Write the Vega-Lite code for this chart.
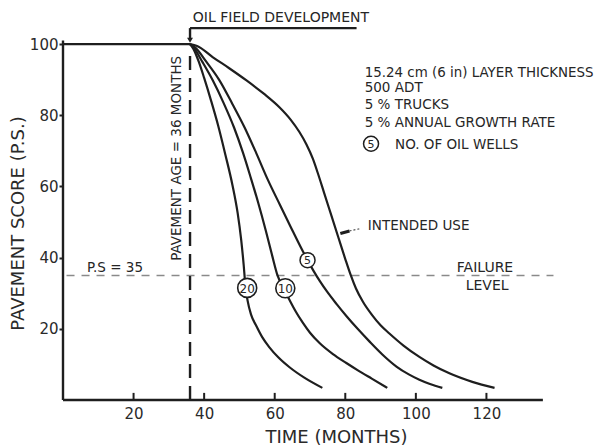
{
  "$schema": "https://vega.github.io/schema/vega-lite/v6.json",
  "autosize": {"type": "none"},
  "padding": {"left": 63, "top": 0, "right": 38, "bottom": 46},
  "width": 494,
  "height": 400,
  "background": "white",
  "config": {
    "view": {"stroke": null},
    "axis": {"grid": false},
    "text": {"font": "DejaVu Sans", "color": "#262626"}
  },
  "encoding": {
    "x": {
      "field": "t", "type": "quantitative",
      "scale": {"domain": [0, 140], "nice": false, "zero": false},
      "axis": {
        "values": [20, 40, 60, 80, 100, 120],
        "ticks": false, "domain": false,
        "labelPadding": 6, "labelFont": "DejaVu Sans", "labelFontSize": 15, "labelColor": "#2a2a2a",
        "title": "TIME (MONTHS)", "titleFont": "DejaVu Sans", "titleFontSize": 18, "titleFontWeight": "normal",
        "titleColor": "#2a2a2a", "titleX": 273, "titleY": 42, "titleAlign": "center", "titleBaseline": "alphabetic"
      }
    },
    "y": {
      "field": "ps", "type": "quantitative",
      "scale": {"domain": [0, 112.4], "nice": false},
      "axis": {
        "values": [20, 40, 60, 80, 100],
        "tickSize": 4, "tickWidth": 2, "tickColor": "#222222", "domain": false,
        "labelPadding": 1, "labelFont": "DejaVu Sans", "labelFontSize": 15, "labelColor": "#2a2a2a",
        "title": "PAVEMENT SCORE (P.S.)", "titleFont": "DejaVu Sans", "titleFontSize": 18, "titleFontWeight": "normal",
        "titleColor": "#2a2a2a", "titleX": -45, "titleY": 223, "titleAngle": 270, "titleAlign": "center", "titleBaseline": "middle"
      }
    }
  },
  "layer": [
    {
      "data": {"values": [{"t": 1, "t2": 139, "ps": 35}]},
      "mark": {"type": "rule", "color": "#8a8a8a", "strokeWidth": 1.6, "strokeDash": [8, 7]},
      "encoding": {"x2": {"field": "t2"}}
    },
    {
      "data": {"values": [{"t": 36, "ps": 0, "ps2": 98.3}]},
      "mark": {"type": "rule", "color": "#1e1e1e", "strokeWidth": 2.4, "strokeDash": [14, 8]},
      "encoding": {"y2": {"field": "ps2"}}
    },
    {
      "data": {"values": [
        {"t": 0, "t2": 136, "ps": 0, "ps2": 0},
        {"t": 0, "t2": 0, "ps": 0, "ps2": 101},
        {"t": 36, "t2": 36, "ps": 104.5, "ps2": 101.5},
        {"t": 36, "t2": 83.2, "ps": 104.5, "ps2": 104.5}
      ]},
      "mark": {"type": "rule", "color": "#1e1e1e", "strokeWidth": 2.4},
      "encoding": {"x2": {"field": "t2"}, "y2": {"field": "ps2"}}
    },
    {
      "data": {"values": [
        {"t": 20, "ps": 0, "ps2": 2},
        {"t": 40, "ps": 0, "ps2": 2},
        {"t": 60, "ps": 0, "ps2": 2},
        {"t": 80, "ps": 0, "ps2": 2},
        {"t": 100, "ps": 0, "ps2": 2},
        {"t": 120, "ps": 0, "ps2": 2}
      ]},
      "mark": {"type": "rule", "color": "#1e1e1e", "strokeWidth": 2},
      "encoding": {"y2": {"field": "ps2"}}
    },
    {
      "data": {"values": [{"t": 36, "ps": 101.1}]},
      "mark": {"type": "point", "shape": "triangle-down", "filled": true, "color": "#1e1e1e", "size": 35, "opacity": 1}
    },
    {
      "data": {"values": [
        {"t": 78.6, "t2": 81.2, "ps": 46.8, "ps2": 47.5}
      ]},
      "mark": {"type": "rule", "color": "#1e1e1e", "strokeWidth": 3},
      "encoding": {"x2": {"field": "t2"}, "y2": {"field": "ps2"}}
    },
    {
      "data": {"values": [
        {"t": 81.2, "t2": 84.4, "ps": 47.5, "ps2": 48.2}
      ]},
      "mark": {"type": "rule", "color": "#555555", "strokeWidth": 1.2, "strokeDash": [2, 2]},
      "encoding": {"x2": {"field": "t2"}, "y2": {"field": "ps2"}}
    },
    {
      "data": {"values": [
        {"series": "base", "t": 0, "ps": 100},
        {"series": "base", "t": 36, "ps": 100},

        {"series": "intended", "t": 36, "ps": 100},
        {"series": "intended", "t": 38, "ps": 99.5},
        {"series": "intended", "t": 42.5, "ps": 96.3},
        {"series": "intended", "t": 47, "ps": 93.3},
        {"series": "intended", "t": 52, "ps": 89.8},
        {"series": "intended", "t": 57, "ps": 86},
        {"series": "intended", "t": 61.4, "ps": 82.2},
        {"series": "intended", "t": 64.5, "ps": 78.8},
        {"series": "intended", "t": 67, "ps": 75.3},
        {"series": "intended", "t": 69, "ps": 71.8},
        {"series": "intended", "t": 70.8, "ps": 67.8},
        {"series": "intended", "t": 72.3, "ps": 63.5},
        {"series": "intended", "t": 74, "ps": 58.2},
        {"series": "intended", "t": 76, "ps": 52},
        {"series": "intended", "t": 78, "ps": 45.8},
        {"series": "intended", "t": 80, "ps": 39.6},
        {"series": "intended", "t": 81.5, "ps": 35.2},
        {"series": "intended", "t": 83, "ps": 31.4},
        {"series": "intended", "t": 85, "ps": 27.6},
        {"series": "intended", "t": 87.5, "ps": 24},
        {"series": "intended", "t": 90, "ps": 21},
        {"series": "intended", "t": 92.5, "ps": 18.7},
        {"series": "intended", "t": 96.5, "ps": 15.3},
        {"series": "intended", "t": 101, "ps": 12.1},
        {"series": "intended", "t": 105, "ps": 9.7},
        {"series": "intended", "t": 109.5, "ps": 7.5},
        {"series": "intended", "t": 116, "ps": 5.1},
        {"series": "intended", "t": 122.3, "ps": 3.4},

        {"series": "5", "t": 36, "ps": 100},
        {"series": "5", "t": 37.5, "ps": 99},
        {"series": "5", "t": 40.5, "ps": 95.2},
        {"series": "5", "t": 44.3, "ps": 89.9},
        {"series": "5", "t": 48, "ps": 83.2},
        {"series": "5", "t": 51.5, "ps": 76.5},
        {"series": "5", "t": 54.8, "ps": 69.3},
        {"series": "5", "t": 58, "ps": 62},
        {"series": "5", "t": 61.5, "ps": 54.8},
        {"series": "5", "t": 64.5, "ps": 48.7},
        {"series": "5", "t": 67.5, "ps": 42.7},
        {"series": "5", "t": 69.3, "ps": 39.3},
        {"series": "5", "t": 71, "ps": 36.3},
        {"series": "5", "t": 72.8, "ps": 33.4},
        {"series": "5", "t": 74.8, "ps": 30.5},
        {"series": "5", "t": 77.5, "ps": 27},
        {"series": "5", "t": 80.3, "ps": 23.6},
        {"series": "5", "t": 83.5, "ps": 20},
        {"series": "5", "t": 86.9, "ps": 16.4},
        {"series": "5", "t": 90.5, "ps": 12.8},
        {"series": "5", "t": 94.5, "ps": 9.4},
        {"series": "5", "t": 98, "ps": 7.2},
        {"series": "5", "t": 101, "ps": 5.7},
        {"series": "5", "t": 104, "ps": 4.5},
        {"series": "5", "t": 107.5, "ps": 3.4},

        {"series": "10", "t": 36, "ps": 100},
        {"series": "10", "t": 37.2, "ps": 98.8},
        {"series": "10", "t": 39.5, "ps": 95},
        {"series": "10", "t": 42.4, "ps": 89.9},
        {"series": "10", "t": 45.5, "ps": 83.5},
        {"series": "10", "t": 48.5, "ps": 76.5},
        {"series": "10", "t": 51, "ps": 69.5},
        {"series": "10", "t": 53.2, "ps": 62.5},
        {"series": "10", "t": 55.3, "ps": 55.5},
        {"series": "10", "t": 57.5, "ps": 47.5},
        {"series": "10", "t": 59.3, "ps": 40.5},
        {"series": "10", "t": 60.8, "ps": 35},
        {"series": "10", "t": 62.5, "ps": 31.4},
        {"series": "10", "t": 64.2, "ps": 28.1},
        {"series": "10", "t": 66, "ps": 24.8},
        {"series": "10", "t": 67.9, "ps": 21.8},
        {"series": "10", "t": 70, "ps": 18.9},
        {"series": "10", "t": 72.7, "ps": 16},
        {"series": "10", "t": 76.5, "ps": 12.9},
        {"series": "10", "t": 80.3, "ps": 10.4},
        {"series": "10", "t": 83.8, "ps": 8.2},
        {"series": "10", "t": 87.5, "ps": 6.0},
        {"series": "10", "t": 91.9, "ps": 3.4},

        {"series": "20", "t": 36, "ps": 100},
        {"series": "20", "t": 37, "ps": 98.6},
        {"series": "20", "t": 38.5, "ps": 95},
        {"series": "20", "t": 40, "ps": 90.5},
        {"series": "20", "t": 42, "ps": 84},
        {"series": "20", "t": 44, "ps": 77},
        {"series": "20", "t": 46, "ps": 69},
        {"series": "20", "t": 48, "ps": 60.5},
        {"series": "20", "t": 49.5, "ps": 52.5},
        {"series": "20", "t": 50.5, "ps": 45},
        {"series": "20", "t": 51.2, "ps": 38},
        {"series": "20", "t": 51.7, "ps": 32},
        {"series": "20", "t": 52.3, "ps": 28},
        {"series": "20", "t": 53.3, "ps": 24},
        {"series": "20", "t": 54.8, "ps": 20.8},
        {"series": "20", "t": 56.5, "ps": 17.6},
        {"series": "20", "t": 58.5, "ps": 14.8},
        {"series": "20", "t": 61, "ps": 12},
        {"series": "20", "t": 64.2, "ps": 9.2},
        {"series": "20", "t": 68.5, "ps": 6.2},
        {"series": "20", "t": 73.5, "ps": 3.4}
      ]},
      "mark": {"type": "line", "color": "#1e1e1e", "strokeWidth": 2.2, "interpolate": "monotone"},
      "encoding": {"detail": {"field": "series"}}
    },
    {
      "data": {"values": [
        {"t": 52.2, "ps": 31.5, "label": "20"},
        {"t": 63.0, "ps": 31.4, "label": "10"}
      ]},
      "mark": {"type": "point", "shape": "circle", "filled": true, "fill": "white", "stroke": "#1e1e1e", "strokeWidth": 1.6, "size": 361, "opacity": 1}
    },
    {
      "data": {"values": [
        {"t": 69.3, "ps": 39.3, "label": "5"},
        {"t": 87.3, "ps": 72.0, "label": "5"}
      ]},
      "mark": {"type": "point", "shape": "circle", "filled": true, "fill": "white", "stroke": "#1e1e1e", "strokeWidth": 1.5, "size": 225, "opacity": 1}
    },
    {
      "data": {"values": [
        {"t": 52.2, "ps": 31.5, "label": "20"},
        {"t": 63.0, "ps": 31.4, "label": "10"}
      ]},
      "mark": {"type": "text", "fontSize": 12, "align": "center", "baseline": "middle", "dy": 1},
      "encoding": {"text": {"field": "label"}}
    },
    {
      "data": {"values": [
        {"t": 69.3, "ps": 39.3, "label": "5"},
        {"t": 87.3, "ps": 72.0, "label": "5"}
      ]},
      "mark": {"type": "text", "fontSize": 11, "align": "center", "baseline": "middle", "dy": 1},
      "encoding": {"text": {"field": "label"}}
    },
    {
      "data": {"values": [
        {"t": 36.8, "ps": 106.2, "label": "OIL FIELD DEVELOPMENT"}
      ]},
      "mark": {"type": "text", "fontSize": 14, "align": "left", "baseline": "alphabetic"},
      "encoding": {"text": {"field": "label"}}
    },
    {
      "data": {"values": [
        {"t": 32.3, "ps": 67.9, "label": "PAVEMENT AGE = 36 MONTHS"}
      ]},
      "mark": {"type": "text", "fontSize": 13.5, "angle": 270, "align": "center", "baseline": "middle"},
      "encoding": {"text": {"field": "label"}}
    },
    {
      "data": {"values": [
        {"t": 85.5, "ps": 90.8, "label": "15.24 cm (6 in) LAYER THICKNESS"}
      ]},
      "mark": {"type": "text", "fontSize": 13.4, "align": "left", "baseline": "alphabetic"},
      "encoding": {"text": {"field": "label"}}
    },
    {
      "data": {"values": [
        {"t": 85.5, "ps": 86.5, "label": "500 ADT"},
        {"t": 85.5, "ps": 81.7, "label": "5 % TRUCKS"},
        {"t": 85.5, "ps": 76.6, "label": "5 % ANNUAL GROWTH RATE"},
        {"t": 94.1, "ps": 70.5, "label": "NO. OF OIL WELLS"},
        {"t": 86.4, "ps": 47.8, "label": "INTENDED USE"},
        {"t": 6.8, "ps": 36.0, "label": "P.S = 35"}
      ]},
      "mark": {"type": "text", "fontSize": 13.5, "align": "left", "baseline": "alphabetic"},
      "encoding": {"text": {"field": "label"}}
    },
    {
      "data": {"values": [
        {"t": 119.6, "ps": 36.0, "label": "FAILURE"},
        {"t": 120.2, "ps": 30.9, "label": "LEVEL"}
      ]},
      "mark": {"type": "text", "fontSize": 14, "align": "center", "baseline": "alphabetic"},
      "encoding": {"text": {"field": "label"}}
    }
  ]
}
